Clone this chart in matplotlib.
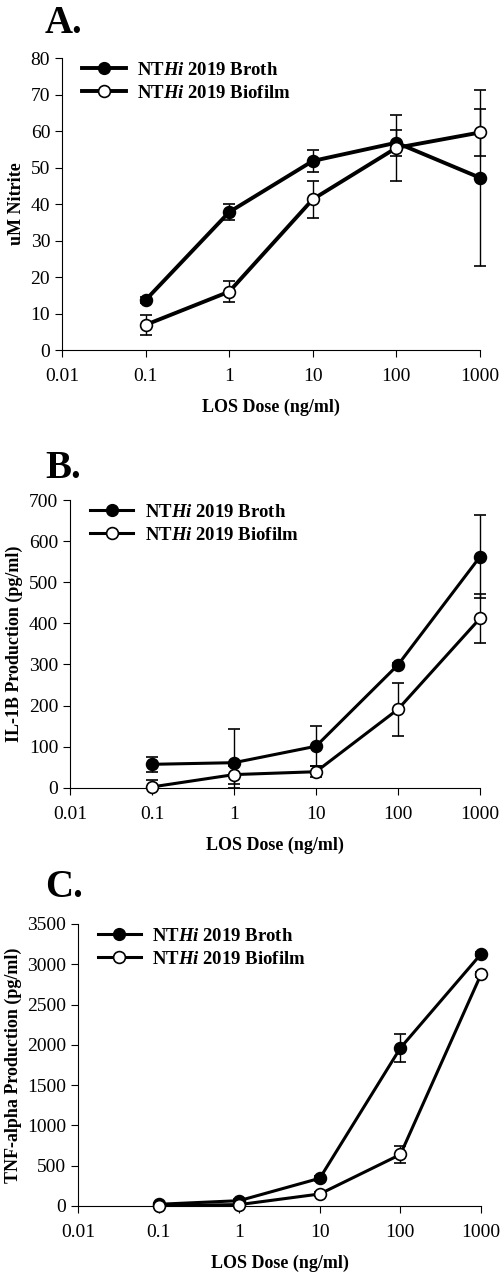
import matplotlib
matplotlib.use("Agg")
import matplotlib.pyplot as plt
from matplotlib.lines import Line2D
import numpy as np

plt.rcParams['font.family'] = ['Liberation Serif']
plt.rcParams['mathtext.fontset'] = 'custom'
plt.rcParams['mathtext.it'] = 'Liberation Serif:bold:italic'
plt.rcParams['mathtext.rm'] = 'Liberation Serif:bold'

dose = [0.1, 1, 10, 100, 1000]
dose_ticks = [0.01, 0.1, 1, 10, 100, 1000]
dose_labels = ["0.01", "0.1", "1", "10", "100", "1000"]

# A. nitrite
nitrite_broth = [13.7, 37.8, 51.8, 56.8, 47.2]
nitrite_broth_err = [0.8, 2.2, 2.9, 3.6, 24.1]
nitrite_biofilm = [6.9, 16.0, 41.3, 55.4, 59.6]
nitrite_biofilm_err = [2.8, 2.9, 5.0, 9.0, 6.4]

# B. IL-1B
il1b_broth = [57, 61, 101, 299, 562]
il1b_broth_err = [19, 83, 49, 5, 101]
il1b_biofilm = [2, 32, 39, 191, 412]
il1b_biofilm_err = [16, 22, 14, 65, 59]

# C. TNF-alpha
tnf_broth = [21, 66, 344, 1961, 3127]
tnf_broth_err = [10, 15, 30, 177, 30]
tnf_biofilm = [5, 17, 149, 639, 2874]
tnf_biofilm_err = [5, 10, 20, 104, 30]

panels = [
    ("A.", "uM Nitrite", nitrite_broth, nitrite_broth_err, nitrite_biofilm, nitrite_biofilm_err,
     (0, 80), 10, [0.124, 0.7248, 0.836, 0.2296], 0.974, 2.8),
    ("B.", "IL-1B Production (pg/ml)", il1b_broth, il1b_broth_err, il1b_biofilm, il1b_biofilm_err,
     (0, 700), 100, [0.14, 0.3807, 0.82, 0.2262], 0.624, 2.2),
    ("C.", "TNF-alpha Production (pg/ml)", tnf_broth, tnf_broth_err, tnf_biofilm, tnf_biofilm_err,
     (0, 3500), 500, [0.156, 0.0519, 0.806, 0.2217], 0.295, 2.2),
]

fig = plt.figure(figsize=(5, 12.72), dpi=100)

for tag, ylabel, b, be, f, fe, ylim, step, pos, tag_y, lw in panels:
    ax = fig.add_axes(pos)
    for vals, errs, face, z in [(b, be, "black", 3), (f, fe, "white", 4)]:
        vals = np.array(vals, dtype=float)
        errs = np.array(errs, dtype=float)
        # bars are cut off at the axis floor, as in the original
        yerr = [np.minimum(errs, vals), errs]
        eb = ax.errorbar(dose, vals, yerr=yerr, color="black", lw=lw, marker="o", ms=8.5,
                         mfc=face, mec="black", mew=1.2, ecolor="black", elinewidth=1,
                         capsize=4, zorder=z)
        for artist in eb.lines[0:1] + eb.lines[1] + eb.lines[2]:
            artist.set_clip_on(False)
    ax.set_xscale("log")
    ax.set_xlim(0.01, 1000)
    ax.set_xticks(dose_ticks)
    ax.set_xticklabels(dose_labels)
    ax.xaxis.set_minor_locator(matplotlib.ticker.NullLocator())
    ax.set_ylim(*ylim)
    ax.set_yticks(np.arange(ylim[0], ylim[1] + step, step))
    for s in ["top", "right"]:
        ax.spines[s].set_visible(False)
    ax.tick_params(direction="out", length=5, labelsize=14)
    ax.tick_params(axis="x", pad=8)
    ax.set_xlabel("LOS Dose (ng/ml)", fontsize=13, fontweight="bold", labelpad=10)
    ax.set_ylabel(ylabel, fontsize=13, fontweight="bold")
    handles = [
        Line2D([], [], color="black", lw=lw, marker="o", ms=8.5, mfc="black", mec="black"),
        Line2D([], [], color="black", lw=lw, marker="o", ms=8.5, mfc="white", mec="black", mew=1.2),
    ]
    leg = ax.legend(handles, [r"NT$\it{Hi}$ 2019 Broth", r"NT$\it{Hi}$ 2019 Biofilm"],
                    loc="upper left", frameon=False, fontsize=13.5, handlelength=2.3,
                    handletextpad=0.6, borderaxespad=0.0, borderpad=0.2, labelspacing=0.3,
                    numpoints=1, bbox_to_anchor=(0.04, 1.0))
    for t in leg.get_texts():
        t.set_fontweight("bold")
    fig.text(0.09, tag_y, tag, fontsize=28, fontweight="bold", va="baseline")

fig.savefig("out.png", dpi=100)
